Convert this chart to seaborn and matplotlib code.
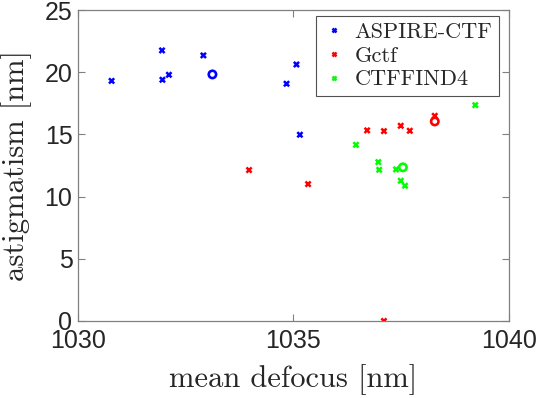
import matplotlib
matplotlib.use("Agg")
import matplotlib.pyplot as plt
import seaborn as sns
import pandas as pd

methods = ["ASPIRE-CTF", "Gctf", "CTFFIND4"]
colors = ["#0000ff", "#ff0000", "#00ff00"]

aspire_x = [1030.78, 1031.95, 1031.96, 1032.11, 1032.91, 1034.84, 1035.07, 1035.15]
aspire_y = [19.31, 21.76, 19.40, 19.80, 21.36, 19.08, 20.63, 14.98]
gctf_x = [1033.97, 1035.34, 1036.71, 1037.10, 1037.49, 1037.70, 1038.28, 1037.10]
gctf_y = [12.14, 11.01, 15.33, 15.27, 15.70, 15.30, 16.50, 0.0]
ctffind_x = [1039.22, 1036.45, 1036.97, 1036.99, 1037.38, 1037.49, 1037.59]
ctffind_y = [17.36, 14.17, 12.78, 12.16, 12.19, 11.28, 10.88]

center_x = [1033.12, 1038.28, 1037.54]
center_y = [19.83, 16.05, 12.36]

xticks = [1030, 1035, 1040]
yticks = [0, 5, 10, 15, 20, 25]

sns.set_style("white")

rows = []
for m, xs, ys in zip(methods, [aspire_x, gctf_x, ctffind_x], [aspire_y, gctf_y, ctffind_y]):
    for a, b in zip(xs, ys):
        rows.append({"defocus": a, "astig": b, "method": m})
df = pd.DataFrame(rows)
cdf = pd.DataFrame({"defocus": center_x, "astig": center_y, "method": methods})
pal = dict(zip(methods, colors))

fig = plt.figure(figsize=(5.4, 3.98), dpi=100)
ax = fig.add_axes([0.1444, 0.1935, 0.798, 0.781])

sns.scatterplot(data=df, x="defocus", y="astig", hue="method", palette=pal,
                marker="x", s=14, linewidth=1.8, ax=ax, zorder=3)
sns.scatterplot(data=cdf, x="defocus", y="astig", hue="method", palette=pal,
                marker="o", s=28, linewidth=1.9, legend=False, ax=ax, zorder=3)
circ = ax.collections[-1]
circ.set_edgecolors([pal[m] for m in methods])
circ.set_facecolors("none")

ax.set_xlim(1030, 1040)
ax.set_ylim(0, 25)
ax.set_xticks(xticks)
ax.set_yticks(yticks)
ax.set_xticklabels([str(t) for t in xticks], fontfamily="Liberation Sans", fontsize=18, color="#262626")
ax.set_yticklabels([str(t) for t in yticks], fontfamily="Liberation Sans", fontsize=18, color="#262626")
ax.tick_params(direction="in", length=5, width=0.8, color="#808080",
               top=True, right=True, bottom=True, left=True, pad=4)
ax.tick_params(axis="x", pad=6)
for sp in ax.spines.values():
    sp.set_visible(True)
    sp.set_color("#808080")
    sp.set_linewidth(0.9)

ax.set_xlabel("mean defocus [nm]", fontfamily="cmr10", fontsize=22, labelpad=8)
ax.set_ylabel("astigmatism [nm]", fontfamily="cmr10", fontsize=22, labelpad=9)

leg = ax.legend(loc="upper right", bbox_to_anchor=(499 / 540, 1 - 16 / 398), bbox_transform=fig.transFigure,
                prop={"family": "cmr10", "size": 16},
                frameon=True, fancybox=False, edgecolor="#262626", handletextpad=0.42,
                borderpad=0.3, labelspacing=0.18, handlelength=1.0, markerscale=0.7,
                borderaxespad=0, title=None)
leg.get_frame().set_linewidth(0.8)

fig.savefig("out.png", dpi=100)
